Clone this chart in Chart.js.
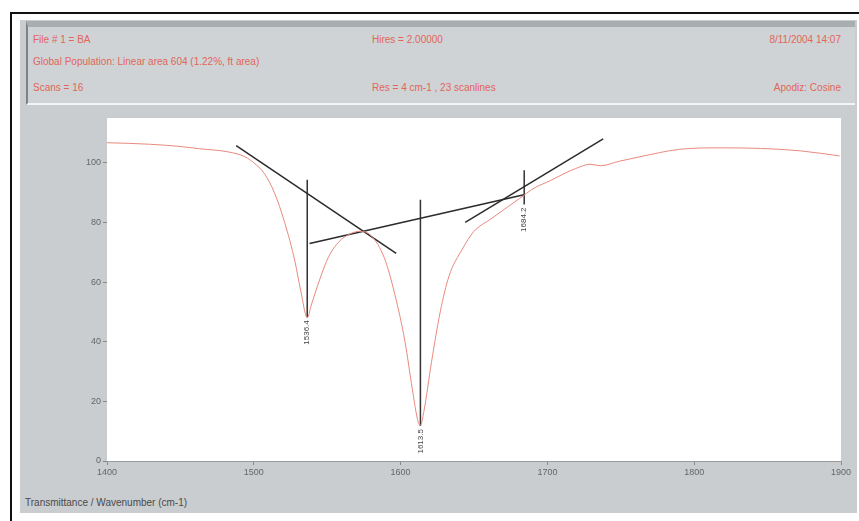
<!DOCTYPE html>
<html>
<head>
<meta charset="utf-8">
<script src="https://cdn.jsdelivr.net/npm/chart.js@4"></script>
<style>
  body { margin: 0; background: #fff; }
  #wrap { position: relative; width: 859px; height: 521px; overflow: hidden; }
  #frame { position: absolute; left: 10px; top: 12px; width: 860px; height: 520px; border-left: 2px solid #111; border-top: 2px solid #111; }
  #panel { position: absolute; left: 20px; top: 20px; width: 837px; height: 493px; background: #c9cdd0; }
  #head { position: absolute; left: 26px; top: 21px; width: 827px; height: 76px; background: #cfd3d6;
          border-top: 6px solid #a8adb0; border-left: 2px solid #7d8285; border-bottom: 2px solid #f2f4f5; }
  .t { position: absolute; font: 10px "Liberation Sans", Arial, sans-serif; color: #e2655a; white-space: nowrap; }
  .r { text-align: right; }
  #foot { position: absolute; left: 25px; top: 497px; font: 10px "Liberation Sans", Arial, sans-serif; color: #4a4a4a; }
  canvas { position: absolute; left: 0; top: 0; }
</style>
</head>
<body>
<div id="wrap">
  <div id="frame"></div>
  <div id="panel"></div>
  <div id="head"></div>
  <div class="t" style="left:33px;top:34px">File # 1 = BA</div>
  <div class="t" style="left:372px;top:34px">Hires = 2.00000</div>
  <div class="t r" style="right:18px;top:34px">8/11/2004 14:07</div>
  <div class="t" style="left:33px;top:56px">Global Population: Linear area 604 (1.22%, ft area)</div>
  <div class="t" style="left:33px;top:82px">Scans = 16</div>
  <div class="t" style="left:372px;top:82px">Res = 4 cm-1 , 23 scanlines</div>
  <div class="t r" style="right:18px;top:82px">Apodiz: Cosine</div>
  <div id="foot">Transmittance / Wavenumber (cm-1)</div>
  <canvas id="myChart" width="859" height="521"></canvas>
</div>
<script>
let wavenumbers = [1400, 1415, 1429, 1449, 1463, 1483, 1494, 1500, 1507, 1514, 1521, 1528, 1532, 1536.5, 1539,
  1545, 1551, 1558, 1565, 1572, 1580, 1589, 1596, 1603, 1608, 1612, 1613.5, 1616, 1621, 1627, 1633, 1642,
  1650, 1661, 1671, 1681, 1691, 1702, 1712, 1719, 1729, 1736, 1749, 1763, 1790, 1818, 1845, 1872, 1899];
let transmittance = [106.7, 106.5, 106.2, 105.5, 104.7, 103.6, 102, 100, 96.5, 90, 80, 67, 57, 48, 52,
  61, 68.5, 73.5, 76, 77, 75.5, 68, 56, 40, 24, 13, 12, 17, 33, 50, 62, 71,
  77, 81, 84.5, 88, 91.5, 94, 96.5, 98, 99.5, 99, 100.5, 102, 104.5, 105, 104.8, 104, 102.3];

// baseline construction lines (start, end) as [wavenumber, transmittance]
let baseLines = [
  [[1488, 105.7], [1597, 69.6]],
  [[1538, 72.9], [1684, 89.3]],
  [[1644, 80], [1738, 108]]
];
// peak markers: position, top and bottom of the drop line, label
let peakPos = [1536.4, 1613.5, 1684.2];
let peakTop = [94.3, 87.6, 97.5];
let peakBottom = [48.2, 11.7, 86];
let peakLabels = ['1536.4', '1613.5', '1684.2'];

let xTicks = [1400, 1500, 1600, 1700, 1800, 1900];
let yTicks = [0, 20, 40, 60, 80, 100];

let datasets = [{
  data: wavenumbers.map((w, i) => ({ x: w, y: transmittance[i] })),
  borderColor: '#e98a7e',
  borderWidth: 1,
  pointRadius: 0,
  cubicInterpolationMode: 'monotone'
}];
baseLines.forEach(l => datasets.push({
  data: l.map(p => ({ x: p[0], y: p[1] })),
  borderColor: '#2b2b2b', borderWidth: 1.5, pointRadius: 0
}));
peakPos.forEach((p, i) => datasets.push({
  data: [{ x: p, y: peakTop[i] }, { x: p, y: peakBottom[i] }],
  borderColor: '#333', borderWidth: 1.5, pointRadius: 0
}));

let peakText = {
  id: 'peakText',
  afterDatasetsDraw(chart) {
    let ctx = chart.ctx, xs = chart.scales.x, ys = chart.scales.y;
    ctx.save();
    ctx.font = '8px "Liberation Sans", Arial, sans-serif';
    ctx.fillStyle = '#444';
    ctx.textBaseline = 'middle';
    ctx.textAlign = 'right';
    peakPos.forEach((p, i) => {
      ctx.save();
      ctx.translate(xs.getPixelForValue(p), ys.getPixelForValue(peakBottom[i]) + 3);
      ctx.rotate(-Math.PI / 2);
      ctx.fillText(peakLabels[i], 0, 0);
      ctx.restore();
    });
    ctx.restore();
  }
};

let plotBg = {
  id: 'plotBg',
  beforeDatasetsDraw(chart) {
    let a = chart.chartArea, ctx = chart.ctx;
    ctx.save();
    ctx.fillStyle = '#fff';
    ctx.fillRect(a.left, a.top, a.right - a.left, a.bottom - a.top);
    ctx.restore();
  }
};

new Chart(document.getElementById('myChart').getContext('2d'), {
  type: 'line',
  data: { datasets: datasets },
  plugins: [plotBg, peakText],
  options: {
    responsive: false,
    animation: false,
    layout: { padding: { top: 118, right: 18, left: 22, bottom: 0 } },
    plugins: { legend: { display: false }, tooltip: { enabled: false } },
    scales: {
      x: {
        type: 'linear', min: 1400, max: 1900,
        afterFit: s => { s.height = 60; },
        afterBuildTicks: s => { s.ticks = xTicks.map(v => ({ value: v })); },
        grid: { drawOnChartArea: false, tickLength: 4, color: '#8a8a8a' },
        border: { color: '#9a9a9a' },
        ticks: { color: '#666', font: { size: 9 }, maxRotation: 0, padding: 2, callback: v => String(v) }
      },
      y: {
        min: 0, max: 115,
        afterFit: s => { s.width = 85; },
        afterBuildTicks: s => { s.ticks = yTicks.map(v => ({ value: v })); },
        grid: { drawOnChartArea: false, tickLength: 4, color: '#8a8a8a' },
        border: { color: '#9a9a9a' },
        ticks: { color: '#666', font: { size: 9 }, padding: 2, callback: v => String(v) }
      }
    }
  }
});
</script>
</body>
</html>
